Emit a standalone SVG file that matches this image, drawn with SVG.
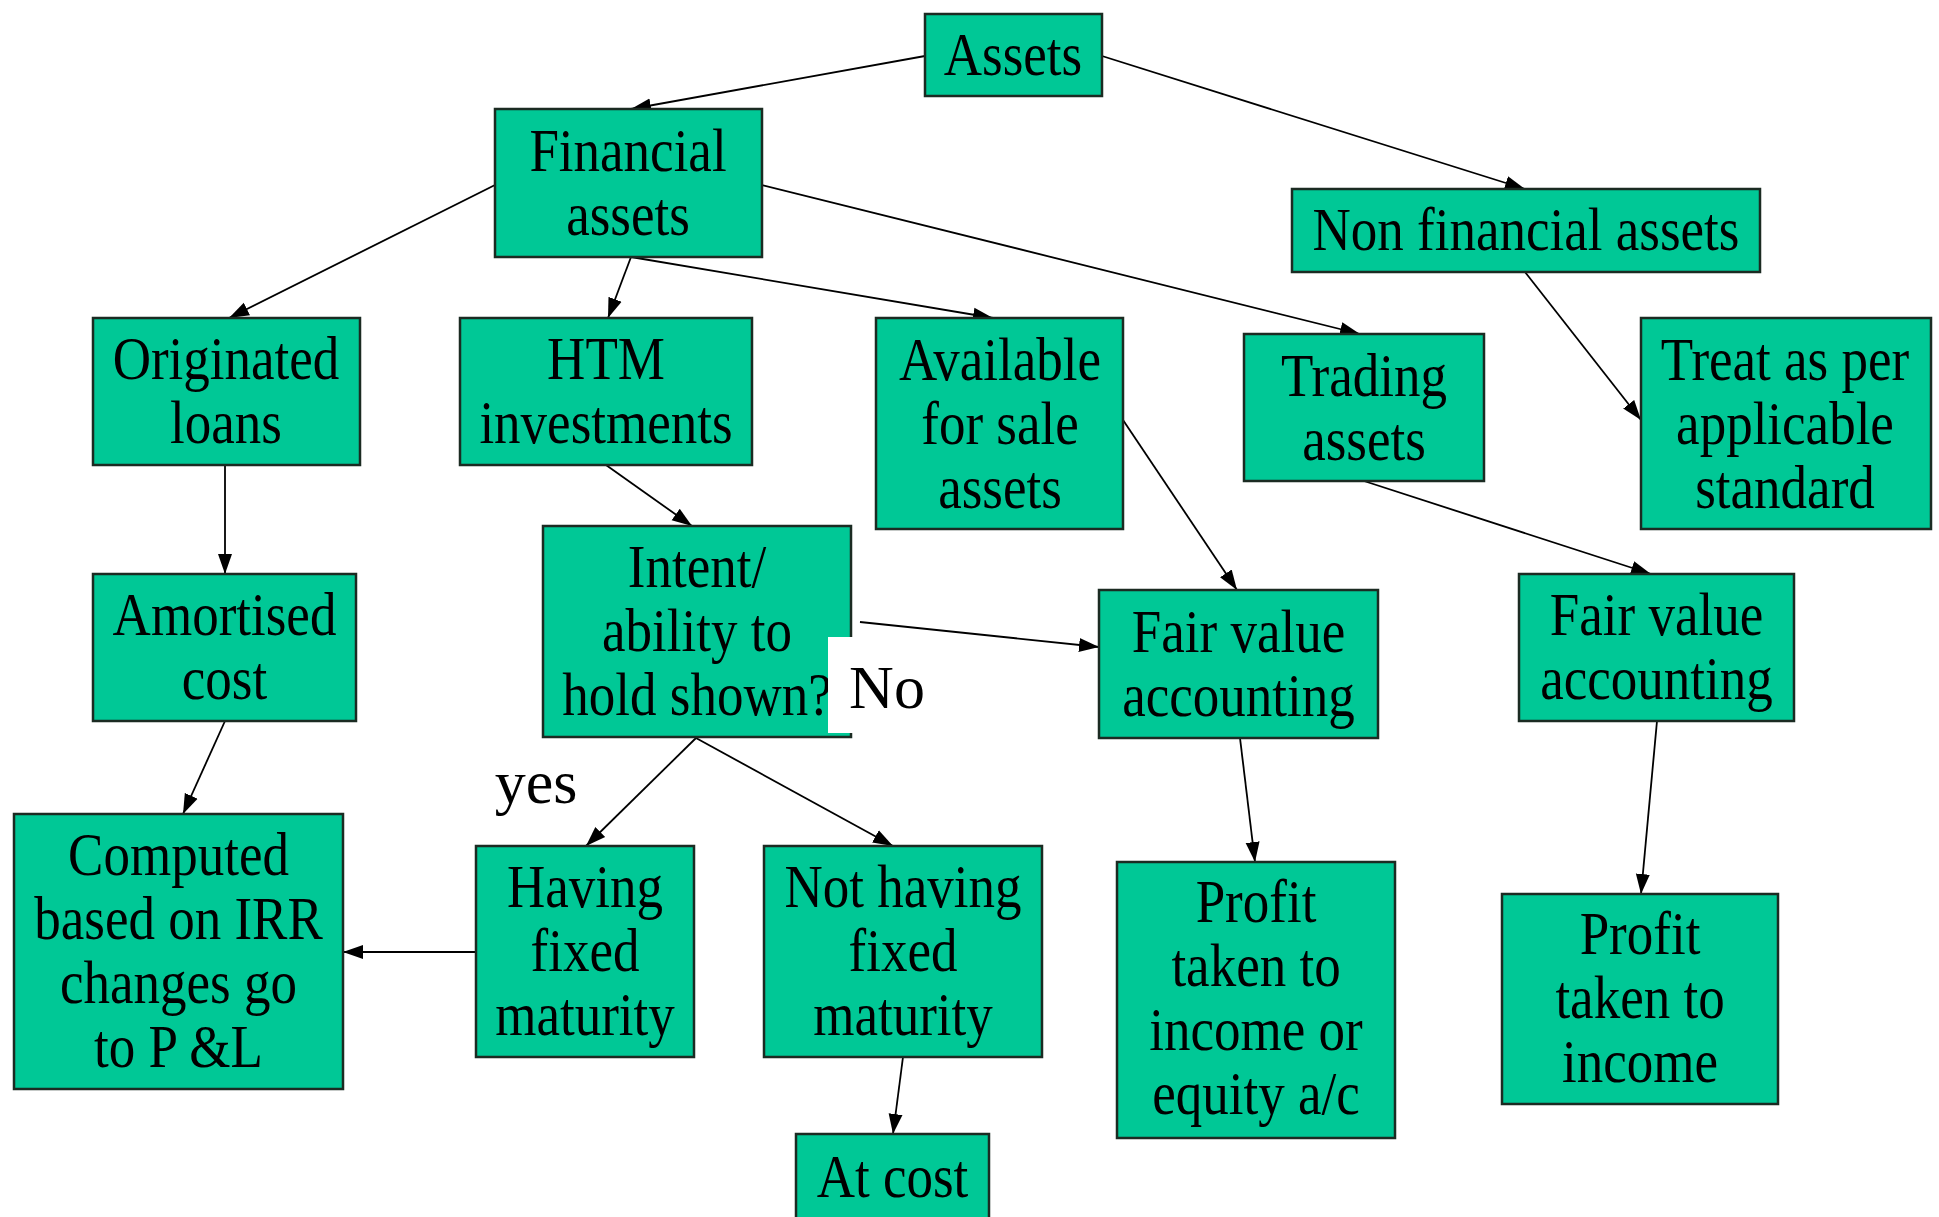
<svg xmlns="http://www.w3.org/2000/svg" width="1939" height="1217" viewBox="0 0 1939 1217">
<style>
.box{fill:#00C896;stroke:#1b2b22;stroke-width:2.5}
.t{font-family:"Liberation Serif","Times New Roman",serif;font-size:62px;fill:#000;text-anchor:middle}
.c{stroke:#000;stroke-width:1.8;fill:none;marker-end:url(#ah)}
</style>
<defs>
<marker id="ah" markerUnits="userSpaceOnUse" markerWidth="22" markerHeight="16" refX="20" refY="8" orient="auto">
<path d="M0,1 L20,8 L0,15 Z" fill="#000"/>
</marker>
</defs>
<rect width="1939" height="1217" fill="#fff"/>
<g id="connectors">
<line class="c" x1="925" y1="56" x2="631" y2="109"/>
<line class="c" x1="1102" y1="56" x2="1525" y2="189"/>
<line class="c" x1="495" y1="185" x2="229" y2="318"/>
<line class="c" x1="631" y1="257" x2="608" y2="318"/>
<line class="c" x1="631" y1="257" x2="993" y2="318"/>
<line class="c" x1="762" y1="185" x2="1360" y2="334"/>
<line class="c" x1="1525" y1="272" x2="1641" y2="420"/>
<line class="c" x1="225" y1="465" x2="225" y2="574"/>
<line class="c" x1="606" y1="465" x2="692" y2="526"/>
<line class="c" x1="1123" y1="420" x2="1237" y2="590"/>
<line class="c" x1="860" y1="622" x2="1099" y2="647"/>
<line class="c" x1="1364" y1="481" x2="1651" y2="574"/>
<line class="c" x1="225" y1="721" x2="183" y2="814"/>
<line class="c" x1="696" y1="738" x2="586" y2="846"/>
<line class="c" x1="696" y1="738" x2="893" y2="846"/>
<line class="c" x1="476" y1="952" x2="343" y2="952"/>
<line class="c" x1="903" y1="1057" x2="893" y2="1134"/>
<line class="c" x1="1240" y1="738" x2="1255" y2="862"/>
<line class="c" x1="1657" y1="721" x2="1641" y2="894"/>
</g>
<g id="assets"><rect class="box" x="925" y="14" width="177" height="82"/>
<text class="t" transform="translate(1013 0) scale(0.855 1)"><tspan x="0" y="75">Assets</tspan></text></g>
<g id="financial"><rect class="box" x="495" y="109" width="267" height="148"/>
<text class="t" transform="translate(628 0) scale(0.855 1)"><tspan x="0" y="171">Financial</tspan><tspan x="0" y="235">assets</tspan></text></g>
<g id="nonfinancial"><rect class="box" x="1292" y="189" width="468" height="83"/>
<text class="t" transform="translate(1526 0) scale(0.855 1)"><tspan x="0" y="250">Non financial assets</tspan></text></g>
<g id="originated"><rect class="box" x="93" y="318" width="267" height="147"/>
<text class="t" transform="translate(226 0) scale(0.855 1)"><tspan x="0" y="379">Originated</tspan><tspan x="0" y="443">loans</tspan></text></g>
<g id="htm"><rect class="box" x="460" y="318" width="292" height="147"/>
<text class="t" transform="translate(606 0) scale(0.855 1)"><tspan x="0" y="379">HTM</tspan><tspan x="0" y="443">investments</tspan></text></g>
<g id="afs"><rect class="box" x="876" y="318" width="247" height="211"/>
<text class="t" transform="translate(1000 0) scale(0.855 1)"><tspan x="0" y="380">Available</tspan><tspan x="0" y="444">for sale</tspan><tspan x="0" y="508">assets</tspan></text></g>
<g id="trading"><rect class="box" x="1244" y="334" width="240" height="147"/>
<text class="t" transform="translate(1364 0) scale(0.855 1)"><tspan x="0" y="396">Trading</tspan><tspan x="0" y="460">assets</tspan></text></g>
<g id="treat"><rect class="box" x="1641" y="318" width="290" height="211"/>
<text class="t" transform="translate(1785 0) scale(0.855 1)"><tspan x="0" y="380">Treat as per</tspan><tspan x="0" y="444">applicable</tspan><tspan x="0" y="508">standard</tspan></text></g>
<g id="amortised"><rect class="box" x="93" y="574" width="263" height="147"/>
<text class="t" transform="translate(224.5 0) scale(0.855 1)"><tspan x="0" y="635">Amortised</tspan><tspan x="0" y="699">cost</tspan></text></g>
<g id="intent"><rect class="box" x="543" y="526" width="308" height="211"/>
<text class="t" transform="translate(697 0) scale(0.855 1)"><tspan x="0" y="587">Intent/</tspan><tspan x="0" y="651">ability to</tspan><tspan x="0" y="715">hold shown?</tspan></text></g>
<g id="label-no"><rect x="828" y="637" width="106" height="96" fill="#fff"/>
<text class="t" x="887" y="708">No</text></g>
<g id="label-yes"><text class="t" x="536" y="803">yes</text></g>
<g id="fv1"><rect class="box" x="1099" y="590" width="279" height="148"/>
<text class="t" transform="translate(1238.5 0) scale(0.855 1)"><tspan x="0" y="652">Fair value</tspan><tspan x="0" y="716">accounting</tspan></text></g>
<g id="fv2"><rect class="box" x="1519" y="574" width="275" height="147"/>
<text class="t" transform="translate(1656.5 0) scale(0.855 1)"><tspan x="0" y="635">Fair value</tspan><tspan x="0" y="699">accounting</tspan></text></g>
<g id="computed"><rect class="box" x="14" y="814" width="329" height="275"/>
<text class="t" transform="translate(178.5 0) scale(0.855 1)"><tspan x="0" y="875">Computed</tspan><tspan x="0" y="939">based on IRR</tspan><tspan x="0" y="1003">changes go</tspan><tspan x="0" y="1067">to P &amp;L</tspan></text></g>
<g id="having"><rect class="box" x="476" y="846" width="218" height="211"/>
<text class="t" transform="translate(585 0) scale(0.855 1)"><tspan x="0" y="907">Having</tspan><tspan x="0" y="971">fixed</tspan><tspan x="0" y="1035">maturity</tspan></text></g>
<g id="nothaving"><rect class="box" x="764" y="846" width="278" height="211"/>
<text class="t" transform="translate(903 0) scale(0.855 1)"><tspan x="0" y="907">Not having</tspan><tspan x="0" y="971">fixed</tspan><tspan x="0" y="1035">maturity</tspan></text></g>
<g id="atcost"><rect class="box" x="796" y="1134" width="193" height="100"/>
<text class="t" transform="translate(892.5 0) scale(0.855 1)"><tspan x="0" y="1197">At cost</tspan></text></g>
<g id="profit1"><rect class="box" x="1117" y="862" width="278" height="276"/>
<text class="t" transform="translate(1256 0) scale(0.855 1)"><tspan x="0" y="922">Profit</tspan><tspan x="0" y="986">taken to</tspan><tspan x="0" y="1050">income or</tspan><tspan x="0" y="1114">equity a/c</tspan></text></g>
<g id="profit2"><rect class="box" x="1502" y="894" width="276" height="210"/>
<text class="t" transform="translate(1640 0) scale(0.855 1)"><tspan x="0" y="954">Profit</tspan><tspan x="0" y="1018">taken to</tspan><tspan x="0" y="1082">income</tspan></text></g>
</svg>
